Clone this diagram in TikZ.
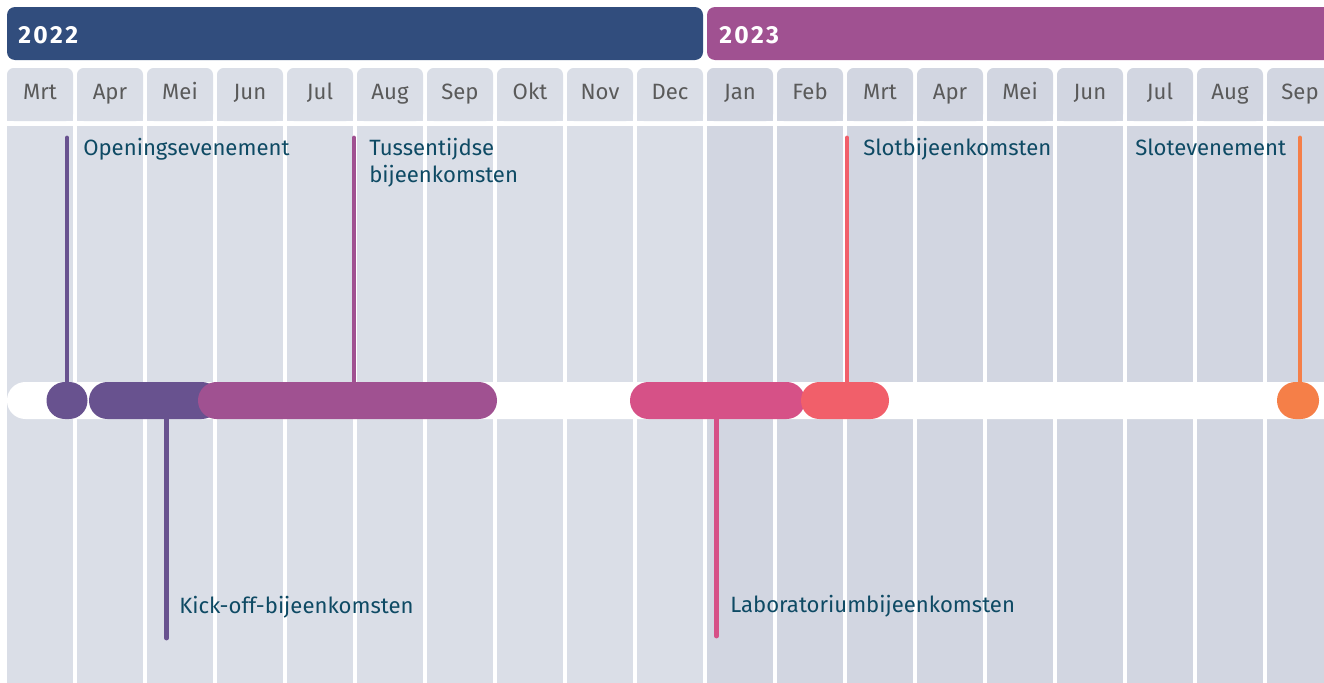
\documentclass[tikz,border=0pt]{standalone}
\usepackage{fontspec}
\setmainfont{Fira Sans}
\newfontfamily\yearfont[LetterSpace=10]{Fira Sans}
\definecolor{hdrA}{HTML}{314D7D}
\definecolor{hdrB}{HTML}{A05191}
\definecolor{cellA}{HTML}{DADEE7}
\definecolor{cellB}{HTML}{D2D6E1}
\definecolor{cviolet}{HTML}{68528F}
\definecolor{cplum}{HTML}{A05191}
\definecolor{crose}{HTML}{D65187}
\definecolor{ccoral}{HTML}{F15F6A}
\definecolor{corange}{HTML}{F57F48}
\definecolor{labeltext}{HTML}{0E4A64}
\definecolor{monthtext}{HTML}{5A5A5A}
\tikzset{
  bar/.style={rectangle, rounded corners=13.8pt, minimum height=27.75pt, inner sep=0pt, draw=none},
  stem/.style={line width=3.6pt, line cap=round},
  evlabel/.style={anchor=base west, inner sep=0pt, text=labeltext, font=\fontsize{16.6}{20}\selectfont},
  monthlabel/.style={anchor=base, inner sep=0pt, text=monthtext, font=\fontsize{16.6}{20}\selectfont},
  yearlabel/.style={anchor=base west, inner sep=0pt, text=white, font=\yearfont\bfseries\fontsize{18.5}{20}\selectfont},
}
\begin{document}
\begin{tikzpicture}[x=0.75pt,y=-0.75pt]
\useasboundingbox (0,0) rectangle (1324,682);
\clip (0,0) rectangle (1324,682);
% year headers
\fill[hdrA, rounded corners=6] (7,7) rectangle (703,60);
\fill[hdrB, rounded corners=6] (707,7) rectangle (1340,60);
\node[yearlabel] (y22) at (18,43.5) {2022};
\node[yearlabel] (y23) at (719,43.5) {2023};
% month columns
\foreach \name [count=\i from 0] in {Mrt,Apr,Mei,Jun,Jul,Aug,Sep,Okt,Nov,Dec,Jan,Feb,Mrt,Apr,Mei,Jun,Jul,Aug,Sep}{
  \pgfmathsetmacro{\xa}{7+70*\i}
  \pgfmathsetmacro{\xb}{73+70*\i}
  \ifnum\i<10 \def\cc{cellA}\else\def\cc{cellB}\fi
  \fill[\cc, rounded corners=5] (\xa,68) rectangle (\xb,121);
  \fill[\cc] (\xa,80) rectangle (\xb,121);
  \fill[\cc] (\xa,126) rectangle (\xb,690);
  \node[monthlabel] (m\i) at ({(\xa+\xb)/2},99) {\name};
}
% white band
\fill[white, rounded corners=13.8pt] (7,382) rectangle (1360,419);
% bars
\node[bar, fill=cviolet, minimum width=98.25pt] (bkick) at (154.5,400.5) {};
\node[bar, fill=cviolet, minimum width=30.75pt] (bopen) at (67,400.5) {};
\node[bar, fill=cplum, minimum width=224.25pt] (btuss) at (347.5,400.5) {};
\node[bar, fill=crose, minimum width=131.25pt] (blab) at (717.5,400.5) {};
\node[bar, fill=ccoral, minimum width=66pt] (bslot) at (845,400.5) {};
\node[bar, fill=corange, minimum width=31.5pt] (bend) at (1298,400.5) {};
% stems
\coordinate (topen) at (67,138);
\coordinate (ttuss) at (354,138);
\coordinate (tslot) at (847,138);
\coordinate (tend) at (1300,138);
\coordinate (kkick) at (166.5,638);
\coordinate (klab) at (716.5,636);
\draw[stem, cviolet] (topen) -- (topen |- bopen.north);
\draw[stem, cplum] (ttuss) -- (ttuss |- btuss.north);
\draw[stem, ccoral] (tslot) -- (tslot |- bslot.north);
\draw[stem, corange] (tend) -- (tend |- bend.north);
\draw[stem, cviolet] (kkick) -- (kkick |- bkick.south);
\draw[stem, crose] (klab) -- (klab |- blab.south);
% labels
\node[evlabel] (lopen) at (83,155) {Openingsevenement};
\node[evlabel] (ltuss1) at (369,155) {Tussentijdse};
\node[evlabel] (ltuss2) at (369,182) {bijeenkomsten};
\node[evlabel] (lslot) at (863,155) {Slotbijeenkomsten};
\node[evlabel] (lend) at (1135,155) {Slotevenement};
\node[evlabel] (lkick) at (179,613) {Kick-off-bijeenkomsten};
\node[evlabel] (llab) at (730,612) {Laboratoriumbijeenkomsten};
\end{tikzpicture}
\end{document}
